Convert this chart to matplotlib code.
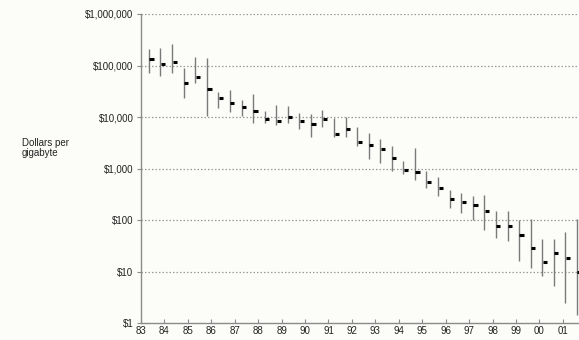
"""Hard disk price per gigabyte, 1983-2001: range and typical value per half-year."""
import matplotlib

matplotlib.use("Agg")

import matplotlib.pyplot as plt  # noqa: E402
import matplotlib.ticker as mticker  # noqa: E402

# decimal year of each sample (two per year)
periods = [
    83.34, 83.83, 84.33, 84.82, 85.31, 85.81, 86.30, 86.79, 87.29, 87.78,
    88.28, 88.77, 89.26, 89.76, 90.25, 90.74, 91.24, 91.73, 92.22, 92.72,
    93.21, 93.70, 94.20, 94.69, 95.18, 95.68, 96.17, 96.66, 97.16, 97.65,
    98.14, 98.64, 99.13, 99.63, 100.12, 100.61, 101.11, 101.60,
]
# typical price, dollars per gigabyte
price_mid = [
    134000, 106000, 117000, 46000, 60000, 35000, 23500, 18800, 15700, 13100,
    9200, 8400, 10000, 8400, 7300, 9200, 4700, 5900, 3300, 2900,
    2400, 1600, 940, 860, 550, 420, 258, 225, 197, 151,
    77, 77, 52, 29, 15.5, 23, 18.5, 9.9,
]
price_high = [
    209000, 219000, 262000, 90000, 147000, 140000, 30700, 33600, 21500, 28000,
    13100, 17200, 16400, 12000, 11500, 13700, 9600, 10000, 6400, 4900,
    3800, 2750, 1400, 2500, 900, 690, 385, 337, 295, 308,
    151, 151, 101, 105, 43, 43, 59, 105,
]
price_low = [
    72000, 63000, 72000, 23500, 46000, 10500, 15000, 12500, 10500, 7700,
    7700, 7000, 7700, 5900, 4100, 6400, 4100, 4100, 2750, 1540,
    1290, 900, 790, 600, 420, 295, 173, 138, 101, 65,
    45, 40, 16, 12, 8.3, 5.3, 2.5, 1.45,
]

year_ticks = list(range(83, 102))
year_labels = [f"{y % 100:02d}" for y in year_ticks]
price_ticks = [1, 10, 100, 1000, 10000, 100000, 1000000]

BG = "#fcfcf9"
AXIS = "#8a8a8a"

plt.rcParams["font.family"] = ["Liberation Sans", "DejaVu Sans"]

fig = plt.figure(figsize=(5.79, 3.40), dpi=100, facecolor=BG)
ax = fig.add_axes([0.2435, 0.049, 0.7565, 0.910])
ax.set_facecolor(BG)

ax.set_yscale("log")
ax.set_ylim(1, 1e6)
ax.set_xlim(83, 101.69)

ax.vlines(periods, price_low, price_high, color="#7a7a7a", linewidth=1.0, zorder=3)
ax.hlines(price_mid, [p + 0.02 for p in periods], [p + 0.2 for p in periods],
          color="black", linewidth=2.2, zorder=4)

ax.set_yticks(price_ticks)
ax.yaxis.set_major_formatter(mticker.FuncFormatter(lambda v, _pos: f"${v:,.0f}"))
ax.yaxis.set_minor_locator(mticker.NullLocator())
ax.set_xticks(year_ticks)
ax.set_xticklabels(year_labels)

for gy in price_ticks[1:]:
    ax.axhline(gy, color="#9a9a9a", linewidth=0.9, linestyle=(0, (1.2, 1.6)), zorder=1)

for side in ("top", "right"):
    ax.spines[side].set_visible(False)
for side in ("left", "bottom"):
    ax.spines[side].set_color(AXIS)
    ax.spines[side].set_linewidth(1.0)

ax.tick_params(axis="y", direction="out", length=3, width=0.8, color=AXIS,
               labelsize=7, pad=2.5, labelcolor="#222222")
ax.tick_params(axis="x", direction="in", length=3, width=0.8, color=AXIS,
               labelsize=7, pad=2, labelcolor="#222222")

fig.text(0.038, 0.565, "Dollars per\ngigabyte", fontsize=7, color="#222222",
         ha="left", va="center", linespacing=1.1)

fig.savefig("out.png", dpi=100, facecolor=BG)
